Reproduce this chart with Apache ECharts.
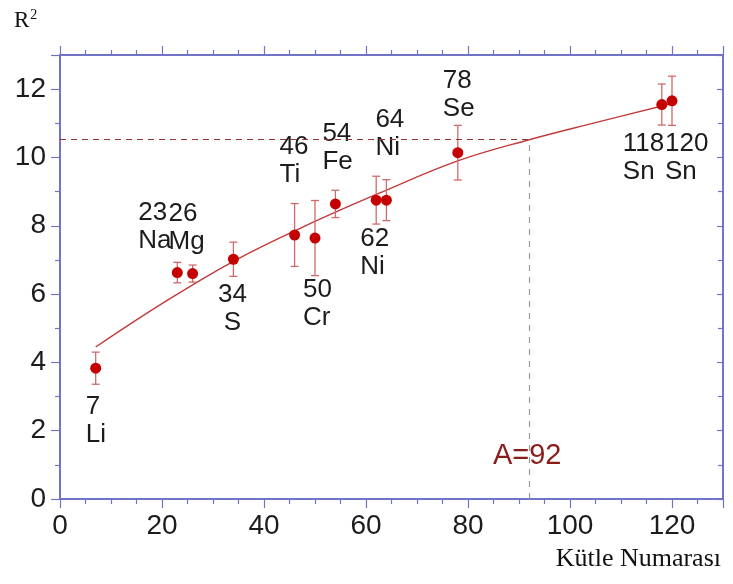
<!DOCTYPE html>
<html>
<head>
<meta charset="utf-8">
<script src="https://cdn.jsdelivr.net/npm/echarts@6/dist/echarts.min.js"></script>
<style>
  html, body { margin: 0; padding: 0; background: #ffffff; }
  #chart { width: 733px; height: 584px; }
</style>
</head>
<body>
<div id="chart"></div>
<script>
// Measured nuclei: mass number, element symbol, R^2 and its uncertainty
const massNumbers = [7, 23, 26, 34, 46, 50, 54, 62, 64, 78, 118, 120];
const elements    = ['Li', 'Na', 'Mg', 'S', 'Ti', 'Cr', 'Fe', 'Ni', 'Ni', 'Se', 'Sn', 'Sn'];
const rSquared    = [3.83, 6.63, 6.6, 7.02, 7.73, 7.64, 8.64, 8.75, 8.75, 10.14, 11.55, 11.66];
const rSqError    = [0.47, 0.3, 0.25, 0.5, 0.92, 1.1, 0.4, 0.7, 0.6, 0.8, 0.6, 0.72];

// Fitted trend through the measurements
const fitMass = [7, 20, 34, 48, 63, 78, 92, 105, 120];
const fitR2   = [4.45, 5.72, 6.96, 7.99, 8.98, 9.9, 10.52, 11.02, 11.58];

// Read-off point on the trend
const readMass = 92;
const readR2 = 10.52;

// Axis ticks
const xTicks = [0, 20, 40, 60, 80, 100, 120];
const yTicks = [0, 2, 4, 6, 8, 10, 12];

// Label placement around each point: [dx, dy, align]
const labelPlacement = [
  [-10, 53, 'left'], [-39, -46, 'left'], [-24, -46, 'left'], [-1, 50, 'center'],
  [-15, -74, 'left'], [-12, 66, 'left'], [-13, -56, 'left'], [-16, 53, 'left'],
  [-11, -66, 'left'], [-15, -58, 'left'], [-39, 53, 'left'], [-7, 57, 'left']
];

const axisColor = '#7272c8';
const textColor = '#1c1c1c';
const sans = '"Liberation Sans", Arial, sans-serif';
const serif = '"Liberation Serif", "Times New Roman", serif';

const chart = echarts.init(document.getElementById('chart'), null, { renderer: 'canvas' });

const pointData = massNumbers.map((a, i) => ({
  value: [a, rSquared[i]],
  label: {
    offset: [labelPlacement[i][0], labelPlacement[i][1]],
    align: labelPlacement[i][2]
  }
}));

const errorData = massNumbers.map((a, i) => [a, rSquared[i] - rSqError[i], rSquared[i] + rSqError[i]]);
const fitData = fitMass.map((a, i) => [a, fitR2[i]]);

const baseX = {
  type: 'value', min: 0, max: 130, interval: 20,
  axisLine: { show: true, onZero: false, lineStyle: { color: axisColor, width: 2 } },
  splitLine: { show: false },
  minorTick: { show: true, splitNumber: 4, length: 5, lineStyle: { color: axisColor, width: 1.2 } },
  axisTick: { show: true, length: 9, lineStyle: { color: axisColor, width: 1.2 } }
};
const baseY = {
  type: 'value', min: 0, max: 13, interval: 2,
  axisLine: { show: true, onZero: false, lineStyle: { color: axisColor, width: 2 } },
  splitLine: { show: false },
  minorTick: { show: true, splitNumber: 2, length: 5, lineStyle: { color: axisColor, width: 1.2 } },
  axisTick: { show: true, length: 9, lineStyle: { color: axisColor, width: 1.2 } }
};

chart.setOption({
  animation: false,
  backgroundColor: '#ffffff',
  grid: { left: 60, right: 10, top: 55, bottom: 85 },
  xAxis: [
    Object.assign({}, baseX, {
      position: 'bottom',
      axisLabel: {
        show: true, margin: 13, color: textColor, fontFamily: sans, fontSize: 28,
        formatter: v => (xTicks.indexOf(v) >= 0 ? String(v) : '')
      }
    }),
    Object.assign({}, baseX, {
      position: 'top',
      axisLabel: { show: false }
    })
  ],
  yAxis: [
    Object.assign({}, baseY, {
      position: 'left',
      axisLabel: {
        show: true, margin: 14, color: textColor, fontFamily: sans, fontSize: 28,
        formatter: v => (yTicks.indexOf(v) >= 0 ? String(v) : '')
      }
    }),
    Object.assign({}, baseY, {
      position: 'right',
      axisLabel: { show: false },
      axisTick: { show: true, inside: true, length: 6, lineStyle: { color: axisColor, width: 1.2 } },
      minorTick: { show: true, splitNumber: 2, length: 5, lineStyle: { color: axisColor, width: 1.2 } }
    })
  ],
  graphic: [
    {
      type: 'text', left: 14, top: 8,
      style: {
        text: 'R{s|2}',
        font: '23px ' + serif,
        fill: '#111111',
        rich: { s: { fontSize: 14, fontFamily: serif, verticalAlign: 'top', padding: [0, 0, 12, 1], fill: '#111111' } }
      }
    },
    {
      type: 'text', right: 12, top: 546,
      style: { text: 'Kütle Numarası', font: '26px ' + serif, fill: '#111111' }
    }
  ],
  series: [
    {
      name: 'fit',
      type: 'line',
      data: fitData,
      smooth: 0.4,
      symbol: 'none',
      lineStyle: { color: '#c23a3a', width: 1.4 },
      z: 2,
      markLine: {
        silent: true,
        symbol: 'none',
        label: { show: false },
        data: [
          [
            { coord: [0, readR2], lineStyle: { color: '#933434', type: [6, 5], width: 1.2 } },
            { coord: [readMass, readR2] }
          ],
          [
            { coord: [readMass, 0], lineStyle: { color: '#9a9a9a', type: [6, 6], width: 1.2 } },
            { coord: [readMass, readR2] }
          ]
        ]
      },
      markPoint: {
        silent: true,
        symbol: 'circle',
        symbolSize: 0,
        data: [{ coord: [readMass - 0.4, 1.25] }],
        label: {
          show: true,
          formatter: 'A=' + readMass,
          color: '#8b1c1c',
          fontFamily: sans,
          fontSize: 29
        }
      }
    },
    {
      name: 'errors',
      type: 'custom',
      data: errorData,
      z: 3,
      renderItem: function (params, api) {
        const x = api.value(0);
        const top = api.coord([x, api.value(2)]);
        const bot = api.coord([x, api.value(1)]);
        const cap = 4;
        const style = { stroke: '#d06a6a', lineWidth: 1.3 };
        return {
          type: 'group',
          children: [
            { type: 'line', shape: { x1: top[0], y1: top[1], x2: bot[0], y2: bot[1] }, style: style },
            { type: 'line', shape: { x1: top[0] - cap, y1: top[1], x2: top[0] + cap, y2: top[1] }, style: style },
            { type: 'line', shape: { x1: bot[0] - cap, y1: bot[1], x2: bot[0] + cap, y2: bot[1] }, style: style }
          ]
        };
      }
    },
    {
      name: 'R2',
      type: 'scatter',
      data: pointData,
      symbol: 'circle',
      symbolSize: 11,
      itemStyle: { color: '#c40000', opacity: 1 },
      z: 4,
      label: {
        show: true,
        position: 'inside',
        verticalAlign: 'middle',
        color: textColor,
        fontFamily: sans,
        fontSize: 26,
        lineHeight: 28,
        formatter: p => massNumbers[p.dataIndex] + '\n' + elements[p.dataIndex]
      }
    }
  ]
});
</script>
</body>
</html>
